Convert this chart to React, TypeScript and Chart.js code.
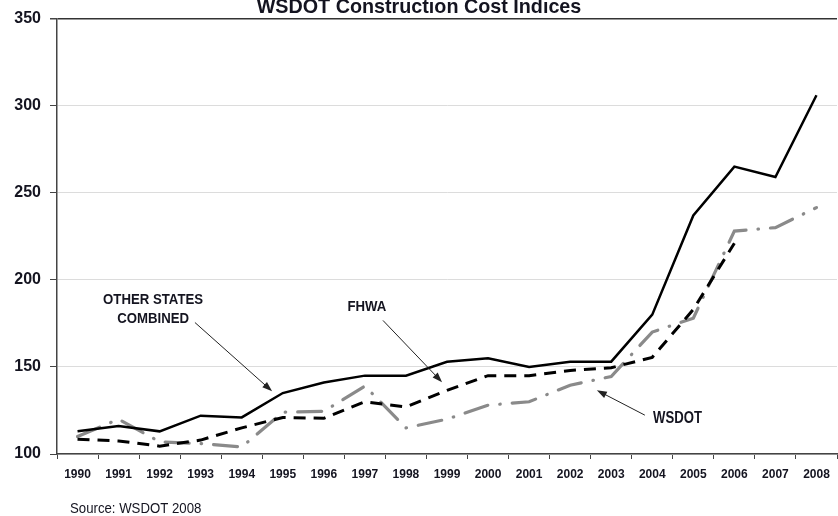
import React, { useEffect, useRef } from "react";
import { Chart, registerables } from "chart.js";

Chart.register(...registerables);

const years = ["1990","1991","1992","1993","1994","1995","1996","1997","1998","1999","2000","2001","2002","2003","2004","2005","2006","2007","2008"];
const otherStates = [113, 116, 113, 122, 121, 135, 141, 145, 145, 153, 155, 150, 153, 153, 180, 237, 265, 259, 306];
const fhwa = [108.5, 107.5, 104.5, 108, 115, 121, 120.5, 130, 127, 136.5, 145, 145, 148, 149.5, 155.5, 183, 221, null, null];
const wsdot = [110, 120, 107, 106, 104, 124, 124.5, 139, 115, 120, 128, 130, 139.5, 144.5, 170, 178, 228, 230, 241.5];
const yTicks = [100, 150, 200, 250, 300, 350];

const TITLE = "WSDOT Construction Cost Indices";
const SOURCE = "Source: WSDOT 2008";
const FONT = "'Liberation Sans', Arial, sans-serif";

function narrowText(ctx: CanvasRenderingContext2D, text: string, x: number, y: number, sx: number) {
  ctx.save();
  ctx.translate(x, y);
  ctx.scale(sx, 1);
  ctx.fillText(text, 0, 0);
  ctx.restore();
}

function arrow(ctx: CanvasRenderingContext2D, x1: number, y1: number, x2: number, y2: number) {
  const ang = Math.atan2(y2 - y1, x2 - x1);
  const len = 10, half = 3.5;
  ctx.beginPath();
  ctx.moveTo(x1, y1);
  ctx.lineTo(x2 - Math.cos(ang) * len * 0.8, y2 - Math.sin(ang) * len * 0.8);
  ctx.stroke();
  ctx.beginPath();
  ctx.moveTo(x2, y2);
  ctx.lineTo(x2 - Math.cos(ang) * len + Math.sin(ang) * half, y2 - Math.sin(ang) * len - Math.cos(ang) * half);
  ctx.lineTo(x2 - Math.cos(ang) * len - Math.sin(ang) * half, y2 - Math.sin(ang) * len + Math.cos(ang) * half);
  ctx.closePath();
  ctx.fill();
}

const annotations = {
  id: "annotations",
  afterDatasetsDraw(chart: any) {
    const { ctx, scales } = chart;
    const xs = scales.x, ys = scales.y;
    const X = (i: number) => xs.getPixelForValue(i);
    const Y = (v: number) => ys.getPixelForValue(v);
    ctx.save();
    ctx.fillStyle = "#141420";
    ctx.strokeStyle = "#222";
    ctx.lineWidth = 1;
    ctx.textBaseline = "middle";
    ctx.font = `bold 15px ${FONT}`;
    ctx.textAlign = "center";
    narrowText(ctx, "OTHER STATES", X(1.84), Y(188.7), 0.88);
    narrowText(ctx, "COMBINED", X(1.84), Y(177.8), 0.88);
    narrowText(ctx, "FHWA", X(7.05), Y(184.7), 0.88);
    ctx.textAlign = "left";
    ctx.font = `bold 16px ${FONT}`;
    narrowText(ctx, "WSDOT", X(14.02), Y(120.6), 0.82);
    ctx.fillStyle = "#222";
    arrow(ctx, X(2.86), Y(175.5), X(4.74), Y(136));
    arrow(ctx, X(7.44), Y(176.7), X(8.88), Y(141.2));
    arrow(ctx, X(13.82), Y(122.3), X(12.65), Y(136.6));
    ctx.fillStyle = "#141420";
    ctx.textAlign = "center";
    ctx.textBaseline = "alphabetic";
    ctx.font = `bold 21px ${FONT}`;
    narrowText(ctx, TITLE, chart.width / 2, 13, 0.94);
    ctx.textAlign = "left";
    ctx.font = `15px ${FONT}`;
    narrowText(ctx, SOURCE, 70, 513, 0.88);
    ctx.restore();
  },
};

export default function App() {
  const ref = useRef<HTMLCanvasElement>(null);
  useEffect(() => {
    document.body.style.margin = "0";
    const chart = new Chart(ref.current!, {
      type: "line",
      data: {
        labels: years,
        datasets: [
          {
            label: "Other States Combined",
            data: otherStates,
            borderColor: "#000",
            borderWidth: 2.5,
            pointRadius: 0,
            tension: 0,
          },
          {
            label: "FHWA",
            data: fhwa,
            borderColor: "#000",
            borderWidth: 3,
            borderDash: [12, 8],
            pointRadius: 0,
            tension: 0,
          },
          {
            label: "WSDOT",
            data: wsdot,
            borderColor: "#8a8a8a",
            borderWidth: 3.2,
            borderDash: [24, 12, 0.5, 12],
            borderCapStyle: "round",
            pointRadius: 0,
            tension: 0,
          },
        ],
      },
      options: {
        animation: false,
        responsive: false,
        maintainAspectRatio: false,
        layout: { padding: { top: 17, right: 1, left: 0, bottom: 0 } },
        plugins: { legend: { display: false }, tooltip: { enabled: false }, title: { display: false } },
        scales: {
          x: {
            type: "category",
            offset: true,
            afterFit: (s: any) => { s.height = 62; },
            grid: { drawOnChartArea: false, drawTicks: true, tickLength: 5, tickColor: "#444", offset: true },
            border: { color: "#444", width: 1.5 },
            ticks: { color: "#141420", font: { family: FONT, size: 12, weight: "bold" }, padding: 8, maxRotation: 0, autoSkip: false },
          },
          y: {
            min: 100,
            max: 350,
            afterFit: (s: any) => { s.width = 57; },
            afterBuildTicks: (s: any) => { s.ticks = yTicks.map((v) => ({ value: v })); },
            grid: {
              color: (c: any) => (c.tick && c.tick.value === 350 ? "#333" : "#dcdcdc"),
              lineWidth: (c: any) => (c.tick && c.tick.value === 350 ? 1.5 : 1),
              tickLength: 7,
              tickColor: "#444",
            },
            border: { color: "#444", width: 1.5 },
            ticks: { color: "#141420", font: { family: FONT, size: 16, weight: "bold" }, padding: 9 },
          },
        },
      },
      plugins: [annotations],
    });
    return () => chart.destroy();
  }, []);
  return <canvas ref={ref} width={838} height={516} style={{ display: "block" }} />;
}
